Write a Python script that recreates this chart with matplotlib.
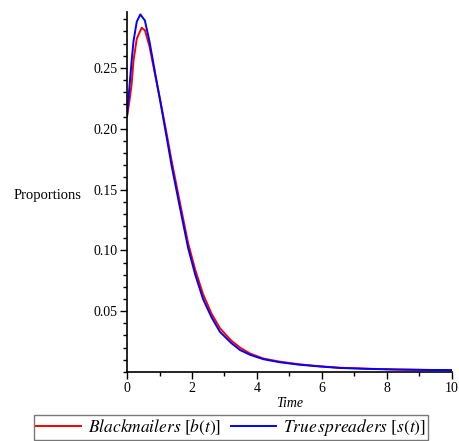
import matplotlib
matplotlib.use("Agg")
import matplotlib.pyplot as plt
from matplotlib.ticker import MultipleLocator, FixedLocator

time = [0, 0.07, 0.15, 0.2, 0.3, 0.41, 0.55, 0.69, 0.89, 1.02, 1.24, 1.37, 1.63, 1.88,
        2.1, 2.34, 2.6, 2.86, 3.2, 3.48, 3.8, 4.2, 4.7, 5.3, 5.94, 6.55, 7.5, 8.3, 9.2, 10]
true_spreaders = [0.210, 0.233, 0.258, 0.272, 0.288, 0.294, 0.289, 0.272, 0.242, 0.223,
                  0.190, 0.170, 0.135, 0.102, 0.080, 0.060, 0.045, 0.033, 0.024, 0.018,
                  0.014, 0.0105, 0.0080, 0.0060, 0.0045, 0.0033, 0.0025, 0.0020, 0.0017, 0.0015]
time_b = [0, 0.07, 0.14, 0.2, 0.3, 0.45, 0.55, 0.69, 0.89, 1.02, 1.24, 1.37, 1.63, 1.88,
          2.1, 2.34, 2.6, 2.86, 3.2, 3.48, 3.8, 4.2, 4.7, 5.3, 5.94, 6.55, 7.5, 8.3, 9.2, 10]
blackmailers = [0.210, 0.222, 0.236, 0.256, 0.274, 0.283, 0.281, 0.268, 0.241, 0.224,
                0.193, 0.174, 0.139, 0.106, 0.084, 0.064, 0.048, 0.036, 0.026, 0.020,
                0.015, 0.011, 0.0085, 0.0063, 0.0047, 0.0035, 0.0026, 0.0021, 0.0017, 0.0015]
y_ticks = [0.05, 0.10, 0.15, 0.20, 0.25]
y_tick_labels = ["0.05", "0.10", "0.15", "0.20", "0.25"]
x_ticks = [0, 2, 4, 6, 8, 10]

plt.rcParams['font.family'] = ['Liberation Serif', 'DejaVu Serif']
plt.rcParams['mathtext.fontset'] = 'stix'

fig = plt.figure(figsize=(4.59, 4.41), dpi=100)
ax = fig.add_axes([0.2767, 0.1565, 0.708, 0.8163])

ax.plot(time_b, blackmailers, color='#ff0000', lw=1.4,
        label=r'$\mathit{Blackmailers}\ [b(t)]$')
ax.plot(time, true_spreaders, color='#0000ff', lw=1.4,
        label=r'$\mathit{True\,spreaders}\ [s(t)]$')

ax.set_xlim(0, 10)
ax.set_ylim(0, 0.296)
ax.spines['top'].set_visible(False)
ax.spines['right'].set_visible(False)
ax.spines['left'].set_linewidth(1.2)
ax.spines['bottom'].set_linewidth(1.2)

ax.xaxis.set_major_locator(FixedLocator(x_ticks))
ax.xaxis.set_minor_locator(MultipleLocator(1))
ax.yaxis.set_major_locator(FixedLocator(y_ticks))
ax.set_yticklabels(y_tick_labels)
ax.yaxis.set_minor_locator(MultipleLocator(0.01))
ax.tick_params(axis='both', which='major', length=5, width=1, labelsize=10, direction='out', pad=2)
ax.tick_params(axis='both', which='minor', length=3, width=1, direction='out')

ax.set_xlabel('Time', fontstyle='italic', fontsize=10, labelpad=2)
ax.set_ylabel('Proportions', rotation=0, fontsize=10.5, labelpad=4, va='center')
ax.yaxis.set_label_coords(-0.245, 0.49)

leg = fig.legend(loc='lower center', bbox_to_anchor=(0.503, 0.003), ncol=2, fontsize=12.5,
                 frameon=True, fancybox=False, edgecolor='#555555', handlelength=2.6,
                 handletextpad=0.4, columnspacing=0.6, borderpad=0.1, borderaxespad=0)
leg.get_frame().set_linewidth(1.0)

fig.savefig('out.png', dpi=100)
